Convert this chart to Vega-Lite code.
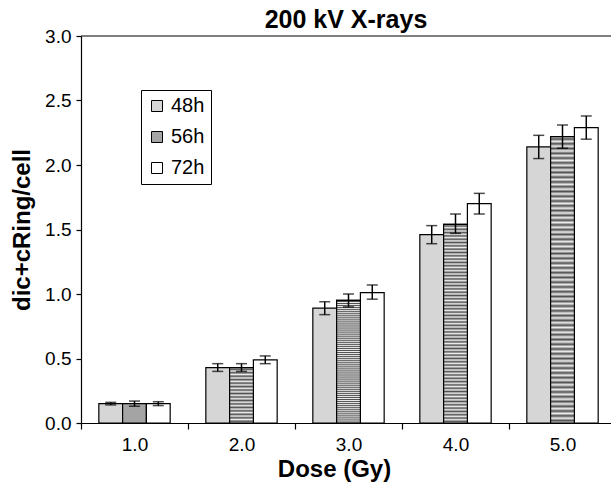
{
  "$schema": "https://vega.github.io/schema/vega-lite/v6.json",
  "autosize": "none",
  "padding": {"left": 81, "top": 36, "right": 0, "bottom": 69},
  "width": 530,
  "height": 387,
  "background": "white",
  "title": {"text": "200 kV X-rays", "font": "Liberation Sans", "fontSize": 25, "fontWeight": "bold", "color": "black", "offset": -6, "anchor": "middle"},
  "config": {
    "view": {"stroke": null},
    "font": "Liberation Sans",
    "axis": {"domainColor": "black", "tickColor": "black", "labelColor": "black", "titleColor": "black", "labelFont": "Liberation Sans", "titleFont": "Liberation Sans", "labelFontSize": 19, "titleFontSize": 24, "titleFontWeight": "bold", "grid": false, "domainWidth": 1.2, "tickWidth": 1.2}
  },
  "data": {"values": [
    {"Dose": "1.0", "Time": "48h", "Mean": 0.15, "lo": 0.14, "hi": 0.16},
    {"Dose": "1.0", "Time": "56h", "Mean": 0.15, "lo": 0.13, "hi": 0.17},
    {"Dose": "1.0", "Time": "72h", "Mean": 0.15, "lo": 0.135, "hi": 0.165},
    {"Dose": "2.0", "Time": "48h", "Mean": 0.43, "lo": 0.40, "hi": 0.46},
    {"Dose": "2.0", "Time": "56h", "Mean": 0.43, "lo": 0.40, "hi": 0.46},
    {"Dose": "2.0", "Time": "72h", "Mean": 0.49, "lo": 0.46, "hi": 0.52},
    {"Dose": "3.0", "Time": "48h", "Mean": 0.89, "lo": 0.84, "hi": 0.94},
    {"Dose": "3.0", "Time": "56h", "Mean": 0.95, "lo": 0.90, "hi": 1.0},
    {"Dose": "3.0", "Time": "72h", "Mean": 1.01, "lo": 0.96, "hi": 1.07},
    {"Dose": "4.0", "Time": "48h", "Mean": 1.46, "lo": 1.39, "hi": 1.53},
    {"Dose": "4.0", "Time": "56h", "Mean": 1.54, "lo": 1.47, "hi": 1.62},
    {"Dose": "4.0", "Time": "72h", "Mean": 1.70, "lo": 1.62, "hi": 1.78},
    {"Dose": "5.0", "Time": "48h", "Mean": 2.14, "lo": 2.05, "hi": 2.23},
    {"Dose": "5.0", "Time": "56h", "Mean": 2.22, "lo": 2.13, "hi": 2.31},
    {"Dose": "5.0", "Time": "72h", "Mean": 2.29, "lo": 2.20, "hi": 2.38}
  ]},
  "encoding": {
    "x": {"field": "Dose", "type": "nominal", "scale": {"range": [0, 535], "paddingInner": 0, "paddingOuter": 0},
      "axis": {"title": "Dose (Gy)", "labelAngle": 0, "tickBand": "extent", "tickSize": 6, "labelPadding": 6, "titlePadding": 3, "titleX": 253}},
    "xOffset": {"field": "Time", "type": "nominal", "scale": {"paddingInner": 0, "paddingOuter": 0.75}}
  },
  "layer": [
    {
      "mark": {"type": "bar", "stroke": "black", "strokeWidth": 1.2},
      "encoding": {
        "y": {"field": "Mean", "type": "quantitative", "scale": {"domain": [0, 3]},
          "axis": {"title": "dic+cRing/cell", "values": [0, 0.5, 1, 1.5, 2, 2.5, 3], "format": ".1f", "tickSize": 5, "labelPadding": 5, "titlePadding": 10}},
        "color": {"field": "Time", "type": "nominal",
          "scale": {"domain": ["48h", "56h", "72h"], "range": ["#d6d6d6", "#a4a4a4", "#ffffff"]},
          "legend": {"title": null, "orient": "none", "legendX": 60, "legendY": 54, "symbolType": "square", "symbolSize": 121, "symbolStrokeColor": "black", "symbolStrokeWidth": 1, "symbolOpacity": 1, "labelFontSize": 20, "labelColor": "black", "labelFont": "Liberation Sans", "rowPadding": 11, "padding": 6, "strokeColor": "black", "fillColor": "white", "labelOffset": 4}}
      }
    },
    {
      "transform": [{"filter": "datum.Time === '56h' && (datum.Dose === '3.0' || datum.Dose === '4.0' || datum.Dose === '5.0')"}],
      "mark": {"type": "bar", "stroke": "black", "strokeWidth": 1.2,
        "fill": {"gradient": "linear", "x1": 0, "y1": 0, "x2": 0, "y2": 1, "stops": [
          {"offset": 0, "color": "#eeeeee"}, {"offset": 0.0083, "color": "#505050"}, {"offset": 0.0167, "color": "#eeeeee"}, {"offset": 0.025, "color": "#505050"},
          {"offset": 0.0333, "color": "#eeeeee"}, {"offset": 0.0417, "color": "#505050"}, {"offset": 0.05, "color": "#eeeeee"}, {"offset": 0.0583, "color": "#505050"},
          {"offset": 0.0667, "color": "#eeeeee"}, {"offset": 0.075, "color": "#505050"}, {"offset": 0.0833, "color": "#eeeeee"}, {"offset": 0.0917, "color": "#505050"},
          {"offset": 0.1, "color": "#eeeeee"}, {"offset": 0.1083, "color": "#505050"}, {"offset": 0.1167, "color": "#eeeeee"}, {"offset": 0.125, "color": "#505050"},
          {"offset": 0.1333, "color": "#eeeeee"}, {"offset": 0.1417, "color": "#505050"}, {"offset": 0.15, "color": "#eeeeee"}, {"offset": 0.1583, "color": "#505050"},
          {"offset": 0.1667, "color": "#eeeeee"}, {"offset": 0.175, "color": "#505050"}, {"offset": 0.1833, "color": "#eeeeee"}, {"offset": 0.1917, "color": "#505050"},
          {"offset": 0.2, "color": "#eeeeee"}, {"offset": 0.2083, "color": "#505050"}, {"offset": 0.2167, "color": "#eeeeee"}, {"offset": 0.225, "color": "#505050"},
          {"offset": 0.2333, "color": "#eeeeee"}, {"offset": 0.2417, "color": "#505050"}, {"offset": 0.25, "color": "#eeeeee"}, {"offset": 0.2583, "color": "#505050"},
          {"offset": 0.2667, "color": "#eeeeee"}, {"offset": 0.275, "color": "#505050"}, {"offset": 0.2833, "color": "#eeeeee"}, {"offset": 0.2917, "color": "#505050"},
          {"offset": 0.3, "color": "#eeeeee"}, {"offset": 0.3083, "color": "#505050"}, {"offset": 0.3167, "color": "#eeeeee"}, {"offset": 0.325, "color": "#505050"},
          {"offset": 0.3333, "color": "#eeeeee"}, {"offset": 0.3417, "color": "#505050"}, {"offset": 0.35, "color": "#eeeeee"}, {"offset": 0.3583, "color": "#505050"},
          {"offset": 0.3667, "color": "#eeeeee"}, {"offset": 0.375, "color": "#505050"}, {"offset": 0.3833, "color": "#eeeeee"}, {"offset": 0.3917, "color": "#505050"},
          {"offset": 0.4, "color": "#eeeeee"}, {"offset": 0.4083, "color": "#505050"}, {"offset": 0.4167, "color": "#eeeeee"}, {"offset": 0.425, "color": "#505050"},
          {"offset": 0.4333, "color": "#eeeeee"}, {"offset": 0.4417, "color": "#505050"}, {"offset": 0.45, "color": "#eeeeee"}, {"offset": 0.4583, "color": "#505050"},
          {"offset": 0.4667, "color": "#eeeeee"}, {"offset": 0.475, "color": "#505050"}, {"offset": 0.4833, "color": "#eeeeee"}, {"offset": 0.4917, "color": "#505050"},
          {"offset": 0.5, "color": "#eeeeee"}, {"offset": 0.5083, "color": "#505050"}, {"offset": 0.5167, "color": "#eeeeee"}, {"offset": 0.525, "color": "#505050"},
          {"offset": 0.5333, "color": "#eeeeee"}, {"offset": 0.5417, "color": "#505050"}, {"offset": 0.55, "color": "#eeeeee"}, {"offset": 0.5583, "color": "#505050"},
          {"offset": 0.5667, "color": "#eeeeee"}, {"offset": 0.575, "color": "#505050"}, {"offset": 0.5833, "color": "#eeeeee"}, {"offset": 0.5917, "color": "#505050"},
          {"offset": 0.6, "color": "#eeeeee"}, {"offset": 0.6083, "color": "#505050"}, {"offset": 0.6167, "color": "#eeeeee"}, {"offset": 0.625, "color": "#505050"},
          {"offset": 0.6333, "color": "#eeeeee"}, {"offset": 0.6417, "color": "#505050"}, {"offset": 0.65, "color": "#eeeeee"}, {"offset": 0.6583, "color": "#505050"},
          {"offset": 0.6667, "color": "#eeeeee"}, {"offset": 0.675, "color": "#505050"}, {"offset": 0.6833, "color": "#eeeeee"}, {"offset": 0.6917, "color": "#505050"},
          {"offset": 0.7, "color": "#eeeeee"}, {"offset": 0.7083, "color": "#505050"}, {"offset": 0.7167, "color": "#eeeeee"}, {"offset": 0.725, "color": "#505050"},
          {"offset": 0.7333, "color": "#eeeeee"}, {"offset": 0.7417, "color": "#505050"}, {"offset": 0.75, "color": "#eeeeee"}, {"offset": 0.7583, "color": "#505050"},
          {"offset": 0.7667, "color": "#eeeeee"}, {"offset": 0.775, "color": "#505050"}, {"offset": 0.7833, "color": "#eeeeee"}, {"offset": 0.7917, "color": "#505050"},
          {"offset": 0.8, "color": "#eeeeee"}, {"offset": 0.8083, "color": "#505050"}, {"offset": 0.8167, "color": "#eeeeee"}, {"offset": 0.825, "color": "#505050"},
          {"offset": 0.8333, "color": "#eeeeee"}, {"offset": 0.8417, "color": "#505050"}, {"offset": 0.85, "color": "#eeeeee"}, {"offset": 0.8583, "color": "#505050"},
          {"offset": 0.8667, "color": "#eeeeee"}, {"offset": 0.875, "color": "#505050"}, {"offset": 0.8833, "color": "#eeeeee"}, {"offset": 0.8917, "color": "#505050"},
          {"offset": 0.9, "color": "#eeeeee"}, {"offset": 0.9083, "color": "#505050"}, {"offset": 0.9167, "color": "#eeeeee"}, {"offset": 0.925, "color": "#505050"},
          {"offset": 0.9333, "color": "#eeeeee"}, {"offset": 0.9417, "color": "#505050"}, {"offset": 0.95, "color": "#eeeeee"}, {"offset": 0.9583, "color": "#505050"},
          {"offset": 0.9667, "color": "#eeeeee"}, {"offset": 0.975, "color": "#505050"}, {"offset": 0.9833, "color": "#eeeeee"}, {"offset": 0.9917, "color": "#505050"},
          {"offset": 1, "color": "#eeeeee"}
        ]}},
      "encoding": {"y": {"field": "Mean", "type": "quantitative"}}
    },
    {
      "transform": [{"filter": "datum.Time === '56h' && datum.Dose === '2.0'"}],
      "mark": {"type": "bar", "stroke": "black", "strokeWidth": 1.2,
        "fill": {"gradient": "linear", "x1": 0, "y1": 0, "x2": 0, "y2": 1, "stops": [
          {"offset": 0, "color": "#eeeeee"}, {"offset": 0.03125, "color": "#505050"}, {"offset": 0.0625, "color": "#eeeeee"}, {"offset": 0.09375, "color": "#505050"},
          {"offset": 0.125, "color": "#eeeeee"}, {"offset": 0.15625, "color": "#505050"}, {"offset": 0.1875, "color": "#eeeeee"}, {"offset": 0.21875, "color": "#505050"},
          {"offset": 0.25, "color": "#eeeeee"}, {"offset": 0.28125, "color": "#505050"}, {"offset": 0.3125, "color": "#eeeeee"}, {"offset": 0.34375, "color": "#505050"},
          {"offset": 0.375, "color": "#eeeeee"}, {"offset": 0.40625, "color": "#505050"}, {"offset": 0.4375, "color": "#eeeeee"}, {"offset": 0.46875, "color": "#505050"},
          {"offset": 0.5, "color": "#eeeeee"}, {"offset": 0.53125, "color": "#505050"}, {"offset": 0.5625, "color": "#eeeeee"}, {"offset": 0.59375, "color": "#505050"},
          {"offset": 0.625, "color": "#eeeeee"}, {"offset": 0.65625, "color": "#505050"}, {"offset": 0.6875, "color": "#eeeeee"}, {"offset": 0.71875, "color": "#505050"},
          {"offset": 0.75, "color": "#eeeeee"}, {"offset": 0.78125, "color": "#505050"}, {"offset": 0.8125, "color": "#eeeeee"}, {"offset": 0.84375, "color": "#505050"},
          {"offset": 0.875, "color": "#eeeeee"}, {"offset": 0.90625, "color": "#505050"}, {"offset": 0.9375, "color": "#eeeeee"}, {"offset": 0.96875, "color": "#505050"},
          {"offset": 1, "color": "#eeeeee"}
        ]}},
      "encoding": {"y": {"field": "Mean", "type": "quantitative"}}
    },
    {
      "mark": {"type": "rule", "color": "black", "strokeWidth": 1.5},
      "encoding": {"y": {"field": "lo", "type": "quantitative"}, "y2": {"field": "hi"}}
    },
    {
      "mark": {"type": "tick", "color": "black", "orient": "horizontal", "size": 11, "thickness": 1.5},
      "encoding": {"y": {"field": "lo", "type": "quantitative"}}
    },
    {
      "mark": {"type": "tick", "color": "black", "orient": "horizontal", "size": 11, "thickness": 1.5},
      "encoding": {"y": {"field": "hi", "type": "quantitative"}}
    },
    {
      "data": {"values": [{"top": 3}]},
      "mark": {"type": "rule", "color": "black", "strokeWidth": 1.2},
      "encoding": {"y": {"field": "top", "type": "quantitative"}, "x": null, "xOffset": null}
    }
  ]
}
